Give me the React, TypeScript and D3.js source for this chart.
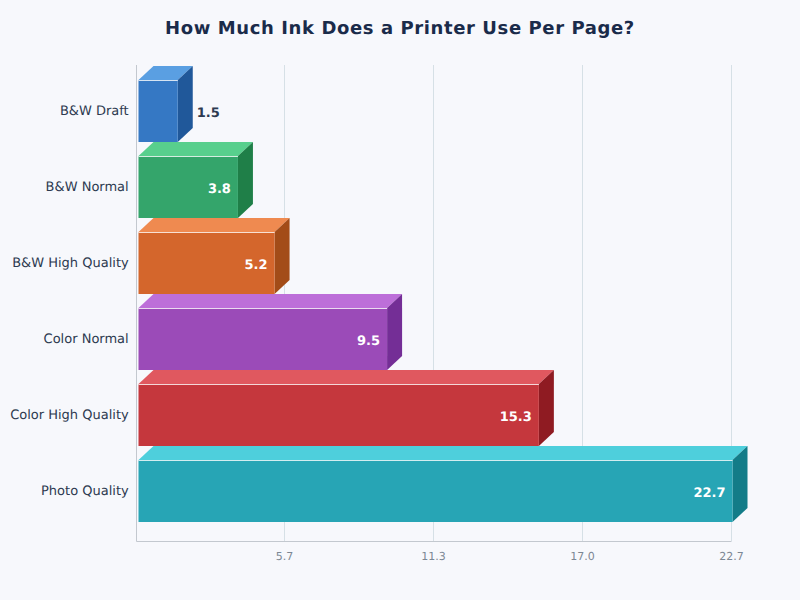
import React, { useEffect, useRef } from 'react';
import * as d3 from 'd3';

const categories = [
  'B&W Draft',
  'B&W Normal',
  'B&W High Quality',
  'Color Normal',
  'Color High Quality',
  'Photo Quality',
];
const values = [1.5, 3.8, 5.2, 9.5, 15.3, 22.7];
const tickValues = [5.675, 11.35, 17.025, 22.7];
const tickLabels = ['5.7', '11.3', '17.0', '22.7'];

const frontColors = ['#3578c4', '#34a56b', '#d4662c', '#9b4bb8', '#c5373d', '#27a5b5'];
const topColors = ['#5a9fe2', '#58cf8d', '#ef8a50', '#bd6fd9', '#e0585f', '#4ecfdc'];
const sideColors = ['#20589a', '#1f7f48', '#a34c18', '#742e96', '#8f1b22', '#137c88'];

export default function App() {
  const ref = useRef<SVGSVGElement>(null);

  useEffect(() => {
    document.body.style.margin = '0';

    const width = 800;
    const height = 600;
    const depthX = 15;
    const depthY = 14;
    const margin = { top: 65, bottom: 58.5, left: 136.5 };

    const svg = d3.select(ref.current);
    svg.selectAll('*').remove();

    svg.append('rect').attr('width', width).attr('height', height).attr('fill', '#f7f8fc');

    svg
      .append('text')
      .attr('x', 400)
      .attr('y', 34)
      .attr('text-anchor', 'middle')
      .attr('font-size', 18)
      .attr('font-weight', 700)
      .attr('letter-spacing', 0.6)
      .attr('fill', '#1a2b4a')
      .text('How Much Ink Does a Printer Use Per Page?');

    // grid sits slightly left of the bars, which start 2px off the axis
    const xGrid = d3.scaleLinear().domain([0, 22.7]).range([135.3, 731.3]);
    const xBar = d3.scaleLinear().domain([0, 22.7]).range([138.5, 732.5]);
    const yScale = d3
      .scaleBand()
      .domain(categories)
      .range([80, 522])
      .paddingInner(14 / 76);

    const grid = svg.append('g');
    tickValues.forEach((t, i) => {
      const x = Math.round(xGrid(t) - 0.5) + 0.5;
      grid
        .append('line')
        .attr('x1', x)
        .attr('x2', x)
        .attr('y1', margin.top)
        .attr('y2', height - margin.bottom)
        .attr('stroke', '#d6e0e6')
        .attr('stroke-width', 1);
      grid
        .append('text')
        .attr('x', x)
        .attr('y', 560)
        .attr('text-anchor', 'middle')
        .attr('font-size', 11)
        .attr('fill', '#7c8794')
        .text(tickLabels[i]);
    });

    svg
      .append('path')
      .attr('d', `M${margin.left},${margin.top}V${height - margin.bottom}H${xGrid(22.7)}`)
      .attr('fill', 'none')
      .attr('stroke', '#c3c8cf')
      .attr('stroke-width', 1);

    const bars = svg
      .selectAll('g.bar')
      .data(categories)
      .enter()
      .append('g')
      .attr('class', 'bar');

    const x0 = xBar(0);
    const xEnd = (_: string, i: number) => xBar(values[i]);
    const yTop = (d: string) => yScale(d) as number;
    const bw = yScale.bandwidth();

    bars
      .append('path')
      .attr('fill', (_, i) => topColors[i])
      .attr('d', (d, i) => {
        const r = xEnd(d, i);
        const y = yTop(d);
        return `M${x0},${y}L${x0 + depthX},${y - depthY}H${r + depthX}L${r},${y}Z`;
      });

    bars
      .append('path')
      .attr('fill', (_, i) => sideColors[i])
      .attr('d', (d, i) => {
        const r = xEnd(d, i);
        const y = yTop(d);
        return `M${r},${y}L${r + depthX},${y - depthY}V${y + bw - depthY}L${r},${y + bw}Z`;
      });

    bars
      .append('rect')
      .attr('x', x0)
      .attr('y', yTop)
      .attr('width', (d, i) => xEnd(d, i) - x0)
      .attr('height', bw)
      .attr('fill', (_, i) => frontColors[i]);

    bars
      .append('line')
      .attr('x1', x0)
      .attr('x2', xEnd)
      .attr('y1', (d) => yTop(d) + 0.5)
      .attr('y2', (d) => yTop(d) + 0.5)
      .attr('stroke', '#fff')
      .attr('stroke-opacity', 0.8)
      .attr('stroke-width', 1);

    bars
      .append('text')
      .attr('x', 128.7)
      .attr('y', (d) => yTop(d) + bw / 2 + 3.5)
      .attr('text-anchor', 'end')
      .attr('font-size', 13)
      .attr('fill', '#2d3a50')
      .text((d) => d);

    // small bars get the label outside, past the side face
    bars
      .append('text')
      .attr('x', (d, i) => (values[i] < 2 ? xEnd(d, i) + depthX + 4 : xEnd(d, i) - 7))
      .attr('y', (d) => yTop(d) + bw / 2 + 6)
      .attr('text-anchor', (_, i) => (values[i] < 2 ? 'start' : 'end'))
      .attr('font-size', 13)
      .attr('font-weight', 700)
      .attr('fill', (_, i) => (values[i] < 2 ? '#2d3a50' : '#fff'))
      .text((_, i) => values[i].toFixed(1));
  }, []);

  return (
    <svg
      ref={ref}
      width={800}
      height={600}
      style={{
        display: 'block',
        fontFamily: '"DejaVu Sans", sans-serif',
        textRendering: 'geometricPrecision',
      }}
    />
  );
}
